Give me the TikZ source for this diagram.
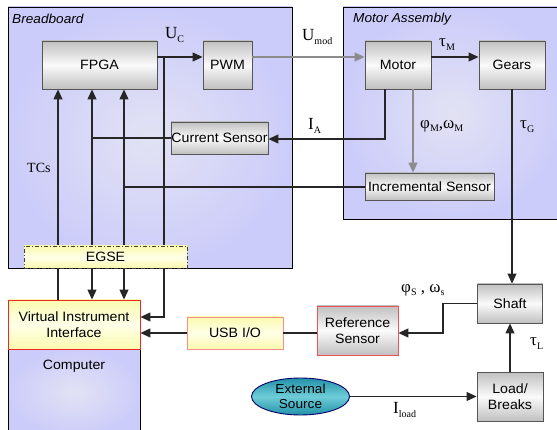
\documentclass[tikz,border=0pt]{standalone}
\usepackage{fontspec}
\setmainfont{Liberation Sans}[FakeStretch=1.05]
\newfontfamily\serifm{Liberation Serif}
\usetikzlibrary{arrows.meta,shapes.geometric}
\definecolor{lavout}{RGB}{204,204,250}
\definecolor{lavin}{RGB}{226,226,244}
\definecolor{grayout}{RGB}{192,192,192}
\definecolor{grayin}{RGB}{250,250,250}
\definecolor{yelout}{RGB}{250,250,175}
\definecolor{yelin}{RGB}{255,255,232}
\definecolor{tealout}{RGB}{35,145,170}
\definecolor{tealin}{RGB}{110,205,215}
\definecolor{bordgray}{RGB}{85,85,85}
\definecolor{redb}{RGB}{235,40,40}
\definecolor{pinkb}{RGB}{250,140,140}
\newcommand\sbs[1]{\raisebox{-0.5ex}{\fontsize{10}{10}\selectfont #1}}
\tikzset{
  area/.style={draw=black, line width=0.9pt, inner color=lavin, outer color=lavout},
  gbox/.style={draw=bordgray, line width=0.9pt, top color=grayout, bottom color=grayout, middle color=grayin,
    rectangle, inner sep=0pt, align=center, font=\fontsize{13.5}{16}\selectfont},
  ybox/.style={line width=0.9pt, top color=yelout, bottom color=yelout, middle color=yelin,
    rectangle, inner sep=0pt, align=center, font=\fontsize{13.5}{16}\selectfont},
  wire/.style={line width=1.1pt, draw=black!85},
  gwire/.style={line width=1.1pt, draw=black!45},
  arr/.style={-{Triangle[length=10pt,width=9pt]}},
  barr/.style={{Triangle[length=10pt,width=9pt]}-{Triangle[length=10pt,width=9pt]}},
  lab/.style={anchor=west, inner sep=0pt, font=\serifm\fontsize{17}{17}\selectfont},
  ttl/.style={anchor=west, inner sep=0pt, font=\itshape\fontsize{13}{15}\selectfont}
}
\begin{document}
\begin{tikzpicture}[x=1pt,y=-1pt]
\useasboundingbox (0,0) rectangle (557,430);
\fill[white] (0,0) rectangle (557,430);
% areas
\path[area] (8,7) rectangle (292,268);
\path[area] (343,7) rectangle (562,219);
\path[area] (8,349) rectangle (140,435);
\node[ttl] (bbt) at (12,19) {Breadboard};
\node[ttl] (mat) at (353,19) {Motor Assembly};
\node[anchor=center, font=\fontsize{13.5}{16}\selectfont] (comp) at (74,366) {Computer};
% boxes
\node[gbox, minimum width=115pt, minimum height=48pt] (FPGA) at (99.5,65) {FPGA};
\node[gbox, minimum width=49pt, minimum height=48pt] (PWM) at (227.5,65) {PWM};
\node[gbox, minimum width=66pt, minimum height=48pt] (Motor) at (398,65) {Motor};
\node[gbox, minimum width=66pt, minimum height=48pt] (Gears) at (512,65) {Gears};
\node[gbox, minimum width=97pt, minimum height=32pt] (CS) at (219.5,138) {Current Sensor};
\node[gbox, minimum width=129pt, minimum height=27pt] (Inc) at (429.5,186.5) {Incremental Sensor};
\node[gbox, minimum width=65pt, minimum height=39pt] (Shaft) at (510,303.5) {Shaft};
\node[gbox, minimum width=66pt, minimum height=49pt] (Load) at (510,396.5) {Load/\\Breaks};
\node[gbox, draw=redb!80, minimum width=81pt, minimum height=49pt] (Ref) at (357.5,330.5) {Reference\\Sensor};
\node[ybox, draw=redb, minimum width=132pt, minimum height=49pt] (VI) at (74,324.5) {Virtual Instrument\\Interface};
\node[ybox, draw=pinkb, minimum width=96pt, minimum height=32pt] (USB) at (235,333) {USB I/O};
\node[ellipse, draw=blue!40!black, line width=0.9pt, top color=tealout, bottom color=tealout, middle color=tealin,
  minimum width=98pt, minimum height=37pt, inner sep=0pt, align=center,
  font=\fontsize{13}{14.5}\selectfont] (Ext) at (300.5,396.5) {External\\Source};
% junction coordinates
\coordinate (j1) at (164,57);
\coordinate (j2) at (164,317);
\coordinate (m1) at (385,139);
\coordinate (s1) at (443,303.5);
\coordinate (s2) at (443,333);
\coordinate (x1) at (58,0);
\coordinate (x2) at (92,0);
\coordinate (x3) at (124,0);
\coordinate (c1) at (92,138);
\coordinate (c2) at (124,187);
% wires
\draw[wire,arr] (FPGA.east |- j1) -- (PWM.west |- j1);
\draw[wire,arr] (j1) -- (j2) -- (VI.east |- j2);
\draw[gwire,arr] (PWM.east |- j1) -- (Motor.west |- j1);
\draw[wire,arr] (Motor.east |- j1) -- (Gears.west |- j1);
\draw[wire,arr] (Motor.south -| m1) -- (m1) -- (CS.east |- m1);
\draw[gwire,arr] (Motor.south -| 413,0) -- (Inc.north -| 413,0);
\draw[wire] (CS.west |- c1) -- (c1);
\draw[wire] (Inc.west |- c2) -- (c2);
\draw[wire,{Triangle[length=10pt,width=9pt]}-] (FPGA.south -| x1) -- (VI.north -| x1);
\draw[wire,barr] (FPGA.south -| x2) -- (VI.north -| x2);
\draw[wire,barr] (FPGA.south -| x3) -- (VI.north -| x3);
\draw[wire,arr] (Gears.south) -- (Gears.south |- Shaft.north);
\draw[wire,arr] (Load.north) -- (Shaft.south);
\draw[wire,arr] (Shaft.west) -- (s1) -- (s2) -- (Ref.east |- s2);
\draw[wire] (Ref.west |- USB.east) -- (USB.east);
\draw[wire,arr] (USB.west) -- (VI.east |- USB.west);
\draw[wire,arr] (Ext.east) -- (Load.west |- Ext.east);
% EGSE on top
\node[ybox, draw=black!75, dash pattern=on 4pt off 2pt on 1pt off 2pt,
  minimum width=163pt, minimum height=22pt] (EGSE) at (105.5,257) {EGSE};
% labels
\node[lab] (lUc) at (165,35) {U\sbs{C}};
\node[lab] (lUm) at (302,37) {U\sbs{mod}};
\node[lab] (ltM) at (439,45) {τ\sbs{M}};
\node[lab] (lIA) at (308,126) {I\sbs{A}};
\node[lab] (lpM) at (420,126) {φ\sbs{M},ω\sbs{M}};
\node[lab] (ltG) at (520,127) {τ\sbs{G}};
\node[lab, font=\serifm\fontsize{14}{14}\selectfont] (lTC) at (27,168) {TCs};
\node[lab] (lpS) at (401,290) {φ\sbs{S} , ω\sbs{s}};
\node[lab] (ltL) at (530,344) {τ\sbs{L}};
\node[lab] (lIl) at (393,410) {I\sbs{load}};
\end{tikzpicture}
\end{document}
